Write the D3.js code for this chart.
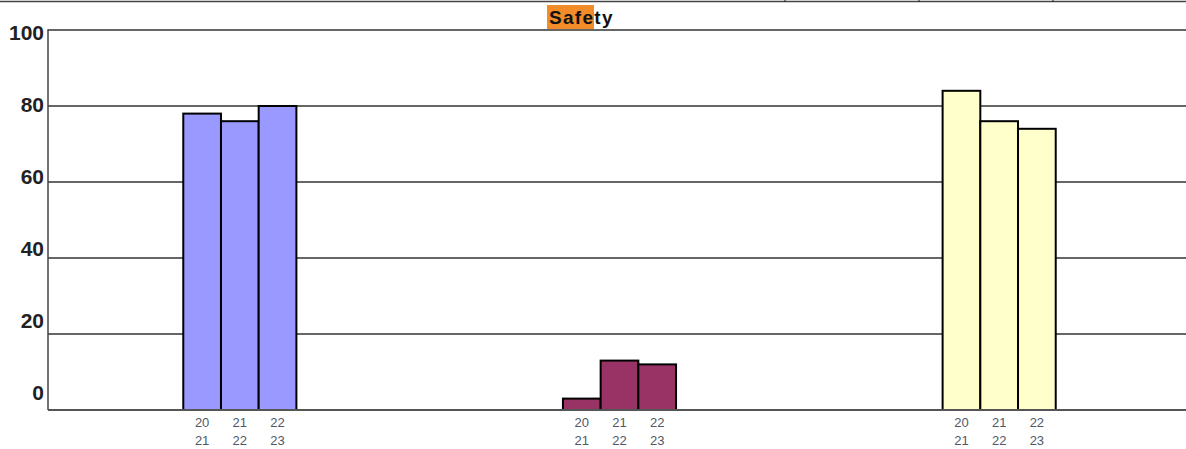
<!DOCTYPE html>
<html>
<head>
<meta charset="utf-8">
<script src="https://cdn.jsdelivr.net/npm/d3@7"></script>
<style>
  html, body { margin: 0; padding: 0; background: #fff; }
  svg { display: block; }
</style>
</head>
<body>
<svg id="chart" width="1186" height="449"></svg>
<script>
// ---- data ----
const title = "Safety";
const categories = ["Group A", "Group B", "Group C"];
const years = ["2021", "2122", "2223"];
const yearLabelsTop = ["20", "21", "22"];
const yearLabelsBottom = ["21", "22", "23"];
const valuesA = [78, 76, 80];
const valuesB = [3, 13, 12];
const valuesC = [84, 76, 74];
const groupColors = ["#9999FF", "#993366", "#FFFFCC"];
const yTicks = [0, 20, 40, 60, 80, 100];

const seriesValues = [valuesA, valuesB, valuesC];

(function () {
const svg = d3.select("#chart");
const W = 1186;
const mLeft = 48, mTop = 30, mBottom = 410, mRight = 1186;

const y = d3.scaleLinear().domain([0, 100]).range([mBottom, mTop]);
const yLabel = d3.scaleLinear().domain([0, 100]).range([392, 32]);
const x0 = d3.scaleBand().domain(categories).range([50, 1189]).padding(0);
const x1 = d3.scaleBand().domain(years).range([0, x0.bandwidth()]).paddingInner(0).paddingOuter(3.535);

// outer frame line at top with small ticks
svg.append("line").attr("x1", 0).attr("x2", W).attr("y1", 1.5).attr("y2", 1.5)
  .attr("stroke", "#444").attr("stroke-width", 1.5);
[785, 919, 1053].forEach(xx => {
  svg.append("line").attr("x1", xx).attr("x2", xx).attr("y1", 0).attr("y2", 2)
    .attr("stroke", "#222").attr("stroke-width", 1);
});

// title with highlight
svg.append("rect").attr("x", 547).attr("y", 5).attr("width", 47).attr("height", 24).attr("fill", "#F28C28");
svg.append("text").attr("x", 549).attr("y", 24)
  .attr("font-family", "Liberation Sans, Arial, sans-serif").attr("font-weight", "bold")
  .attr("font-size", 19).attr("letter-spacing", 1.3).attr("fill", "#111").text(title);

// gridlines
svg.append("g").selectAll("line").data(yTicks.filter(d => d > 0)).join("line")
  .attr("x1", mLeft).attr("x2", mRight)
  .attr("y1", d => y(d)).attr("y2", d => y(d))
  .attr("stroke", "#333").attr("stroke-width", 1.5);

// left axis
svg.append("line").attr("x1", mLeft).attr("x2", mLeft).attr("y1", mTop - 0.75).attr("y2", mBottom)
  .attr("stroke", "#444").attr("stroke-width", 1.5);

// y labels
svg.append("g").selectAll("text").data(yTicks).join("text")
  .attr("x", 44).attr("y", d => yLabel(d)).attr("dy", "0.36em")
  .attr("text-anchor", "end")
  .attr("font-family", "Liberation Sans, Arial, sans-serif").attr("font-weight", "bold")
  .attr("font-size", 21).attr("fill", "#222").text(d => d);

// bars
categories.forEach((cat, gi) => {
  const g = svg.append("g").attr("transform", `translate(${x0(cat)},0)`);
  g.selectAll("rect").data(seriesValues[gi]).join("rect")
    .attr("x", (d, i) => x1(years[i]))
    .attr("y", d => y(d))
    .attr("width", x1.bandwidth())
    .attr("height", d => y(0) - y(d))
    .attr("fill", groupColors[gi])
    .attr("stroke", "#000").attr("stroke-width", 2);
  const lbl = g.selectAll("text.l").data(years).join("text")
    .attr("class", "l")
    .attr("x", d => x1(d) + x1.bandwidth() / 2)
    .attr("text-anchor", "middle")
    .attr("font-family", "Liberation Sans, Arial, sans-serif")
    .attr("font-size", 13).attr("fill", "#505868");
  lbl.append("tspan").attr("x", d => x1(d) + x1.bandwidth() / 2).attr("y", 427).text((d, i) => yearLabelsTop[i]);
  lbl.append("tspan").attr("x", d => x1(d) + x1.bandwidth() / 2).attr("y", 445).text((d, i) => yearLabelsBottom[i]);
});

// bottom axis
svg.append("line").attr("x1", mLeft).attr("x2", mRight).attr("y1", mBottom).attr("y2", mBottom)
  .attr("stroke", "#555").attr("stroke-width", 2);
})();
</script>
</body>
</html>
